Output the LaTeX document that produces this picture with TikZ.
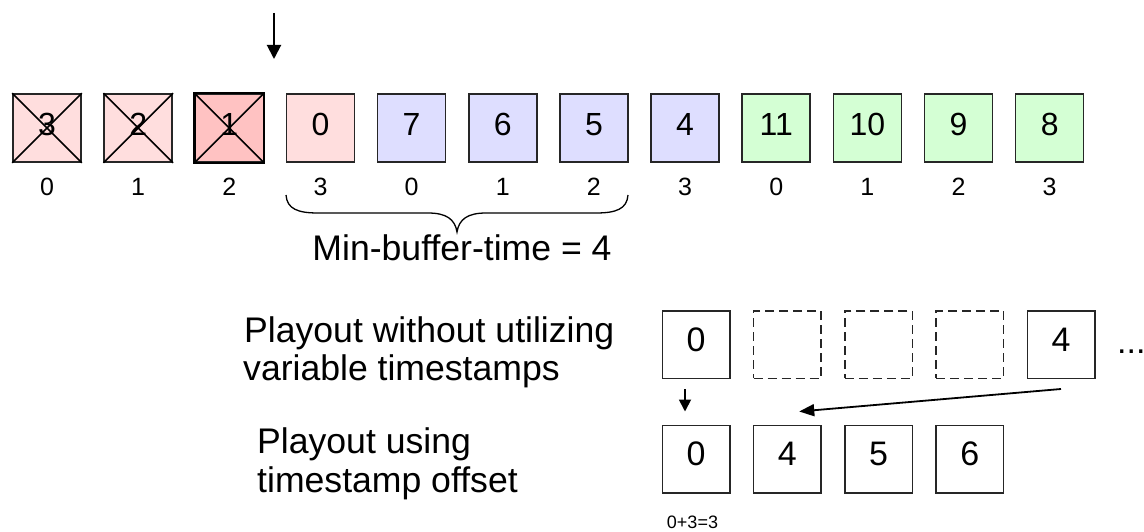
\documentclass[tikz,border=0pt]{standalone}
\usepackage{fontspec}
\setmainfont{Liberation Sans}
\usetikzlibrary{arrows.meta, calc}

\begin{document}
\begin{tikzpicture}[x=1pt, y=-1pt,
  frame/.style={draw=black!85, line width=1.6pt, minimum size=68pt, inner sep=0pt,
    font=\fontsize{32}{32}\selectfont, text depth=8pt},
  idx/.style={font=\fontsize{25}{25}\selectfont, anchor=base, inner sep=0pt},
  slot/.style={draw=black!85, line width=1.5pt, minimum size=67.5pt, inner sep=0pt,
    font=\fontsize{34}{34}\selectfont, text depth=10pt},
  emptyslot/.style={slot, dash pattern=on 9pt off 5pt},
  caption/.style={font=\fontsize{35.6}{38}\selectfont, inner sep=0pt, anchor=base west},
  pointer/.style={-{Triangle[length=14pt,width=14pt]}, line width=2pt}]
\useasboundingbox (0,0) rectangle (1144,532);

% Received frames, numbered, with their timestamps below
\foreach \lab/\col [count=\i from 0] in {3/red!13, 2/red!13, 1/red!24, 0/red!13,
    7/blue!13, 6/blue!13, 5/blue!13, 4/blue!13,
    11/green!17, 10/green!17, 9/green!17, 8/green!17} {
    \pgfmathsetmacro{\x}{47 + \i*91.15}
    \pgfmathtruncatemacro{\t}{mod(\i,4)}
    \node[frame, fill=\col] (f\i) at (\x,128) {\lab};
    \node[idx] (t\i) at (\x,196) {\t};
}
\draw[line width=2.4pt, black] (f2.north west) rectangle (f2.south east);

% Frames that are dropped
\foreach \i in {0,1,2} {
    \draw[line width=1.6pt] (f\i.north west) -- (f\i.south east)
                            (f\i.north east) -- (f\i.south west);
}

% Start of playout
\coordinate (nowtop) at (274,13);
\coordinate (nowtip) at (274,59);
\draw[pointer] (nowtop) -- (nowtip);

% Min-buffer-time brace
\draw[line width=1.3pt] (286,195) .. controls (287,209) and (298,213) .. (318,213)
  -- (428,213) .. controls (446,213) and (455,219) .. (457,232)
  .. controls (459,219) and (468,213) .. (486,213) -- (596,213)
  .. controls (616,213) and (627,209) .. (628,195);
\node[caption, anchor=base] (minbuf) at (462,260) {Min-buffer-time = 4};

% Playout without variable timestamps
\node[caption] (wo1) at (244,342) {Playout without utilizing};
\node[caption] (wo2) at (243,380) {variable timestamps};
\foreach \lab/\sty [count=\i from 0] in {0/slot, {}/emptyslot, {}/emptyslot, {}/emptyslot, 4/slot} {
    \pgfmathsetmacro{\x}{696 + \i*91.25}
    \node[\sty] (pw\i) at (\x,344.5) {\lab};
}
\node[caption, font=\fontsize{34}{34}\selectfont] (more) at (1117,353) {...};

% Playout with timestamp offset
\node[caption] (wt1) at (257,453) {Playout using};
\node[caption] (wt2) at (257,492) {timestamp offset};
\foreach \lab [count=\i from 0] in {0,4,5,6} {
    \pgfmathsetmacro{\x}{696 + \i*91.25}
    \node[slot] (po\i) at (\x,459) {\lab};
}
\node[font=\fontsize{18}{18}\selectfont, anchor=base, inner sep=0pt] (offs) at (692.5,528) {0+3=3};

\draw[pointer, line width=1.8pt, -{Triangle[length=12pt,width=12pt]}]
  ([xshift=-11pt,yshift=-10pt]pw0.south) -- ([xshift=-11pt,yshift=13pt]po0.north);
\draw[pointer, line width=1.8pt, -{Triangle[length=15pt,width=12pt]}]
  ([yshift=-10pt]pw4.south) -- ([xshift=12pt,yshift=13pt]po1.north);
\end{tikzpicture}
\end{document}
